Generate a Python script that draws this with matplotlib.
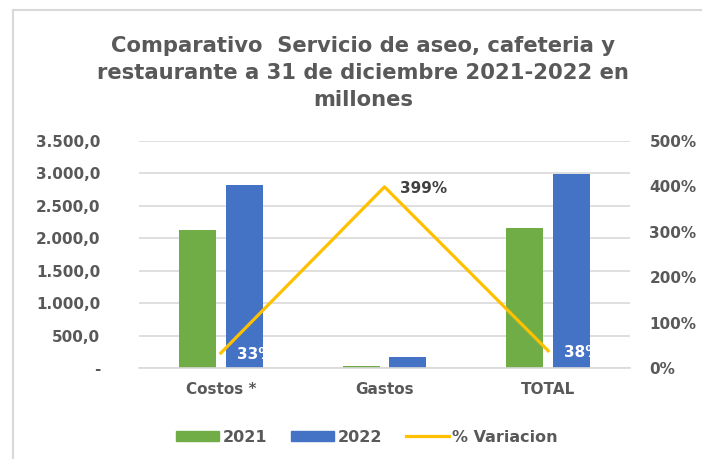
import matplotlib
matplotlib.use("Agg")
import matplotlib.pyplot as plt
import numpy as np
from matplotlib.lines import Line2D
from matplotlib.ticker import FixedLocator, FuncFormatter

categories = ["Costos *", "Gastos", "TOTAL"]
values_2021 = [2128, 34, 2162]
values_2022 = [2821, 170, 2991]
variacion = [0.33, 3.99, 0.38]
variacion_labels = ["33%", "399%", "38%"]
label_colors = ["white", "#404040", "white"]
left_ticks = [0, 500, 1000, 1500, 2000, 2500, 3000, 3500]
right_ticks = [0, 1, 2, 3, 4, 5]

GREEN = "#70AD47"
BLUE = "#4472C4"
GOLD = "#FFC000"
TXT = "#595959"
FONT = "DejaVu Sans"

plt.rcParams["font.family"] = FONT

W, H = 702, 459
fig = plt.figure(figsize=(W / 100, H / 100), dpi=100)
fig.patch.set_facecolor("white")

# chart border (left and top visible)
fig.add_artist(Line2D([13 / W, 13 / W], [0, 1 - 10 / H], color="#D9D9D9", lw=1.5, transform=fig.transFigure))
fig.add_artist(Line2D([13 / W, 1], [1 - 10 / H, 1 - 10 / H], color="#D9D9D9", lw=1.5, transform=fig.transFigure))

ax_l, ax_r, ax_b, ax_t = 139, 630, 368, 141
ax = fig.add_axes([ax_l / W, 1 - ax_b / H, (ax_r - ax_l) / W, (ax_b - ax_t) / H])
x = np.arange(len(categories))
bw = 0.226
off = 0.143
ax.bar(x - off, values_2021, bw, color=GREEN, label="2021", zorder=2)
ax.bar(x + off, values_2022, bw, color=BLUE, label="2022", zorder=2)
ax.set_xlim(-0.5, len(categories) - 0.5)
ax.set_ylim(0, 3500)
ax.yaxis.set_major_locator(FixedLocator(left_ticks))

def fmt_left(v, pos):
    if v == 0:
        return "-"
    s = f"{v:,.1f}"
    return s.replace(",", "X").replace(".", ",").replace("X", ".")

ax.yaxis.set_major_formatter(FuncFormatter(fmt_left))
ax.grid(axis="y", color="#D9D9D9", lw=1.2, zorder=0)
ax.set_axisbelow(True)
for s in ["top", "right", "left"]:
    ax.spines[s].set_visible(False)
ax.spines["bottom"].set_color("#D9D9D9")
ax.spines["bottom"].set_linewidth(1.2)
ax.tick_params(axis="y", length=0, pad=28, labelsize=11, labelcolor=TXT)
ax.tick_params(axis="x", length=0, pad=10, labelsize=11, labelcolor=TXT)
ax.set_xticks(x)
ax.set_xticklabels(categories)
for lab in ax.get_yticklabels() + ax.get_xticklabels():
    lab.set_fontweight("bold")

ax2 = ax.twinx()
ax2.plot(x, variacion, color=GOLD, lw=2.3, label="% Variacion", zorder=3)
ax2.set_ylim(0, 5)
ax2.yaxis.set_major_locator(FixedLocator(right_ticks))
ax2.yaxis.set_major_formatter(FuncFormatter(lambda v, p: f"{int(round(v * 100))}%"))
for s in ["top", "right", "left", "bottom"]:
    ax2.spines[s].set_visible(False)
ax2.tick_params(axis="y", length=0, pad=14, labelsize=11, labelcolor=TXT)
for lab in ax2.get_yticklabels():
    lab.set_fontweight("bold")

for xi, v, lbl, c in zip(x, variacion, variacion_labels, label_colors):
    ax2.annotate(lbl, (xi, v), xytext=(11.5, -1), textcoords="offset points",
                 ha="left", va="center", fontsize=11, fontweight="bold", color=c, zorder=4)

fig.text(363 / W, 1 - 73 / H,
         "Comparativo  Servicio de aseo, cafeteria y\nrestaurante a 31 de diciembre 2021-2022 en\nmillones",
         ha="center", va="center", fontsize=15.2, fontweight="bold", color=TXT, linespacing=1.42)

handles = [plt.Rectangle((0, 0), 1, 1, color=GREEN), plt.Rectangle((0, 0), 1, 1, color=BLUE),
           Line2D([], [], color=GOLD, lw=2.3)]
leg = fig.legend(handles, ["2021", "2022", "% Variacion"], loc="center",
                 bbox_to_anchor=(367 / W, 1 - 437 / H), ncol=3, frameon=False,
                 handlelength=2.7, handleheight=0.6, handletextpad=0.2, columnspacing=1.5,
                 prop={"size": 11.5, "weight": "bold"})
for t in leg.get_texts():
    t.set_color(TXT)

fig.savefig("out.png", dpi=100, facecolor="white")
